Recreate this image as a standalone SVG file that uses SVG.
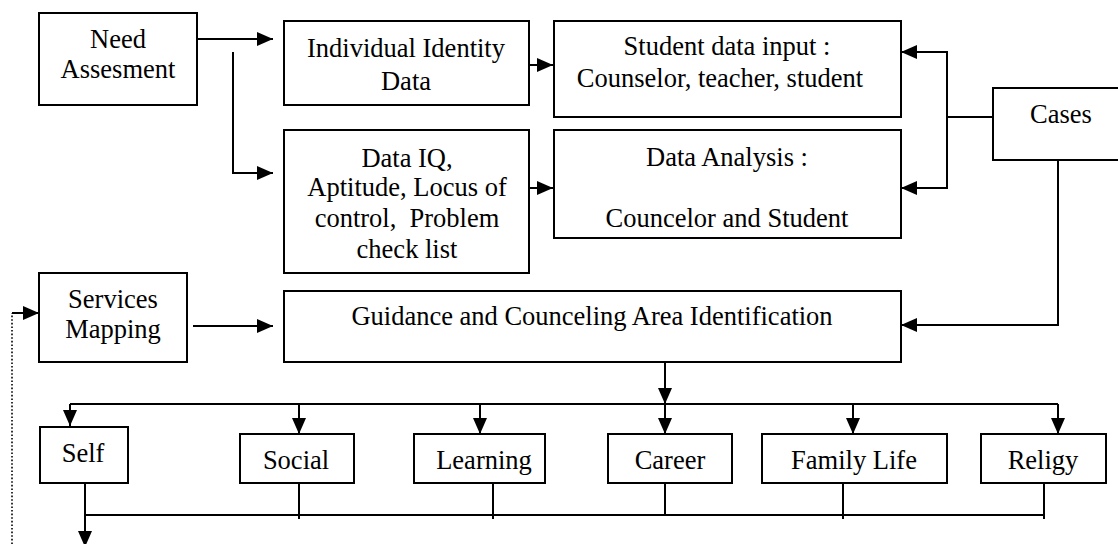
<svg xmlns="http://www.w3.org/2000/svg" width="1118" height="544" viewBox="0 0 1118 544">
  <style>
    .box { fill: #fff; stroke: #000; stroke-width: 2; }
    .lbl { font-family: "Liberation Serif", "Times New Roman", serif; font-size: 26.5px; fill: #000; text-anchor: middle; }
    .ln { fill: none; stroke: #000; stroke-width: 2; }
    .arr { fill: none; stroke: #000; stroke-width: 2; marker-end: url(#head); }
    .dot { fill: none; stroke: #000; stroke-width: 1.6; stroke-dasharray: 1.6 2; }
  </style>
  <defs>
    <marker id="head" markerUnits="userSpaceOnUse" markerWidth="17" markerHeight="15" refX="16" refY="7" orient="auto">
      <path d="M0,0 L16,7 L0,14 z" fill="#000"/>
    </marker>
  </defs>

  <rect width="1118" height="544" fill="#fff"/>

  <!-- connectors -->
  <g id="connectors">
    <!-- need assessment fan-out -->
    <path class="arr" d="M197,39 H273"/>
    <path class="arr" d="M233,52 V173 H273"/>
    <!-- data boxes into student/analysis boxes -->
    <path class="arr" d="M529,65 H553"/>
    <path class="arr" d="M529,188 H553"/>
    <!-- cases feedback -->
    <path class="ln" d="M993,117 H947"/>
    <path class="arr" d="M947,117 V52 H901"/>
    <path class="arr" d="M947,117 V188 H901"/>
    <path class="arr" d="M1058,160 V325 H901"/>
    <!-- services mapping -->
    <path class="arr" d="M193,326 H273"/>
    <path class="dot" d="M12,544 V313"/>
    <path class="arr" d="M12,313 H39"/>
    <!-- area identification to areas -->
    <path class="arr" d="M665,362 V404"/>
    <path class="ln" d="M70,404 H1058"/>
    <path class="arr" d="M70,404 V426"/>
    <path class="arr" d="M299,404 V434"/>
    <path class="arr" d="M480,404 V434"/>
    <path class="arr" d="M665,404 V434"/>
    <path class="arr" d="M853,404 V434"/>
    <path class="arr" d="M1058,404 V434"/>
    <!-- areas merge below -->
    <path class="ln" d="M85,515 H1044"/>
    <path class="arr" d="M85,469 V547"/>
    <path class="ln" d="M299,483 V519"/>
    <path class="ln" d="M493,483 V519"/>
    <path class="ln" d="M665,479 V515"/>
    <path class="ln" d="M843,483 V519"/>
    <path class="ln" d="M1044,483 V519"/>
  </g>

  <g id="need-assesment">
    <rect class="box" x="39" y="13" width="158" height="92"/>
    <text class="lbl" x="118" y="48">Need</text>
    <text class="lbl" x="118" y="78">Assesment</text>
  </g>

  <g id="individual-identity">
    <rect class="box" x="284" y="21" width="245" height="84"/>
    <text class="lbl" x="406" y="57">Individual Identity</text>
    <text class="lbl" x="406" y="90">Data</text>
  </g>

  <g id="data-iq">
    <rect class="box" x="284" y="130" width="245" height="143"/>
    <text class="lbl" x="407" y="167">Data IQ,</text>
    <text class="lbl" x="407" y="196">Aptitude, Locus of</text>
    <text class="lbl" x="407" y="227" style="white-space:pre">control,  Problem</text>
    <text class="lbl" x="407" y="258">check list</text>
  </g>

  <g id="student-data-input">
    <rect class="box" x="554" y="21" width="347" height="96"/>
    <text class="lbl" x="727" y="55">Student data input :</text>
    <text class="lbl" x="720" y="87">Counselor, teacher, student</text>
  </g>

  <g id="data-analysis">
    <rect class="box" x="554" y="130" width="347" height="108"/>
    <text class="lbl" x="727" y="166">Data Analysis :</text>
    <text class="lbl" x="727" y="227">Councelor and Student</text>
  </g>

  <g id="cases">
    <path class="box" d="M1120,88 H993 V160 H1120"/>
    <text class="lbl" x="1061" y="123">Cases</text>
  </g>

  <g id="services-mapping">
    <rect class="box" x="39" y="273" width="148" height="89"/>
    <text class="lbl" x="113" y="308">Services</text>
    <text class="lbl" x="113" y="338">Mapping</text>
  </g>

  <g id="area-identification">
    <rect class="box" x="284" y="291" width="617" height="71"/>
    <text class="lbl" x="592" y="325">Guidance and Counceling Area Identification</text>
  </g>

  <g id="self">
    <rect class="box" x="40" y="427" width="88" height="56"/>
    <text class="lbl" x="83" y="462">Self</text>
  </g>

  <g id="social">
    <rect class="box" x="240" y="434" width="114" height="49"/>
    <text class="lbl" x="296" y="469">Social</text>
  </g>

  <g id="learning">
    <rect class="box" x="414" y="434" width="131" height="49"/>
    <text class="lbl" x="484" y="469">Learning</text>
  </g>

  <g id="career">
    <rect class="box" x="608" y="434" width="124" height="49"/>
    <text class="lbl" x="670" y="469">Career</text>
  </g>

  <g id="family-life">
    <rect class="box" x="762" y="434" width="185" height="49"/>
    <text class="lbl" x="854" y="469">Family Life</text>
  </g>

  <g id="religy">
    <rect class="box" x="981" y="434" width="125" height="49"/>
    <text class="lbl" x="1043" y="469">Religy</text>
  </g>
</svg>
